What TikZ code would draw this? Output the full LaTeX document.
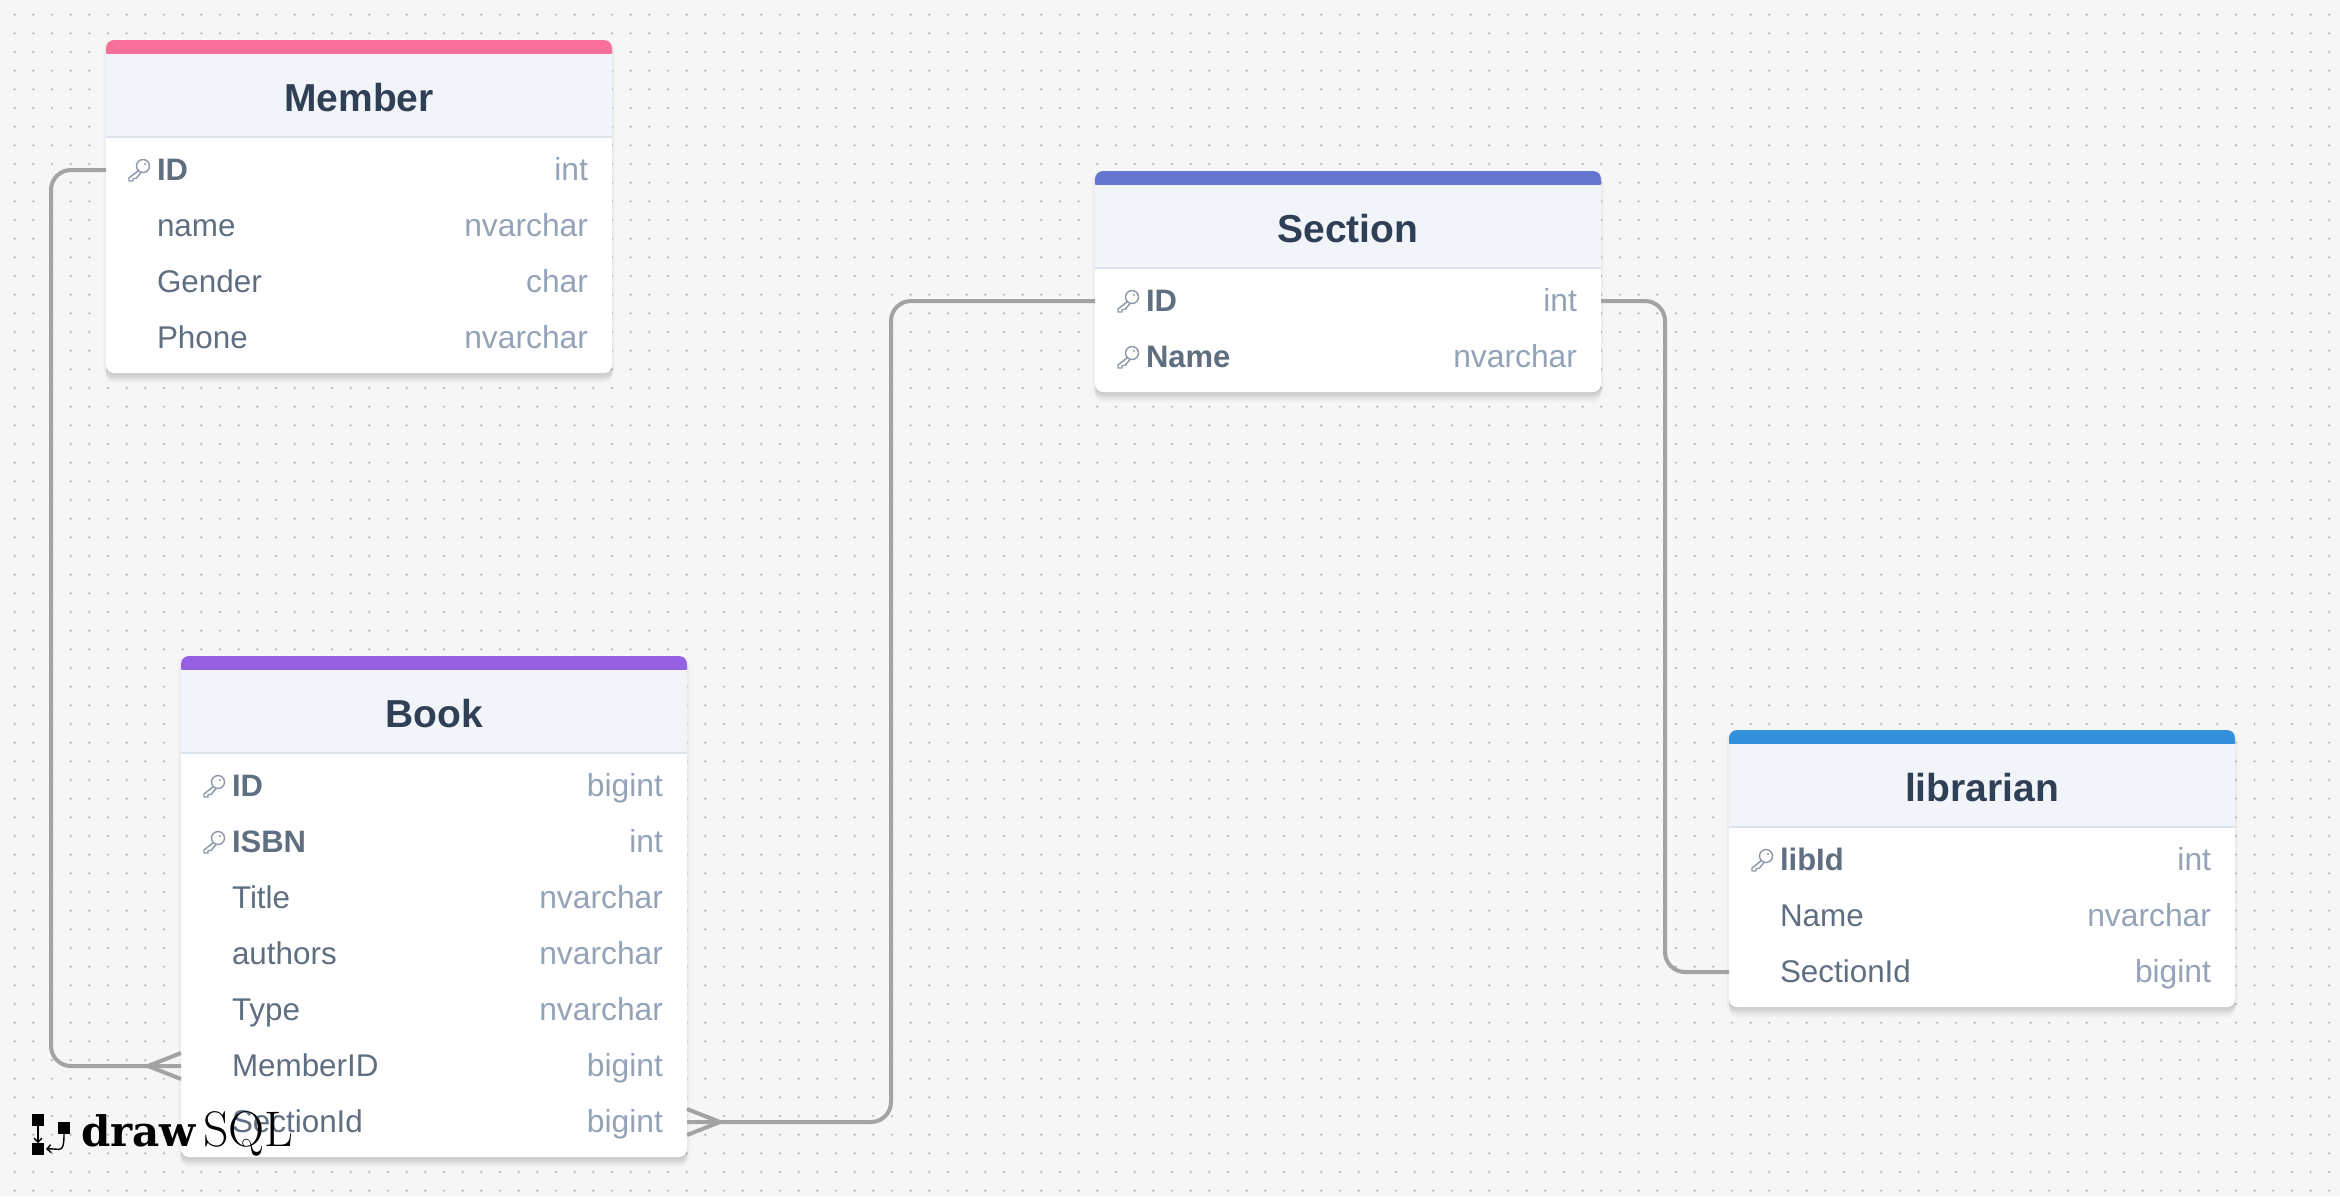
\documentclass[tikz,border=0pt]{standalone}
\usepackage{fontspec}
\newfontfamily\uifont{Liberation Sans}
\newfontfamily\logofont{DejaVu Serif}
\usetikzlibrary{positioning,shadows,arrows.meta,calc}
\definecolor{canvasgray}{HTML}{F6F6F6}
\definecolor{griddot}{HTML}{B4B4B4}
\definecolor{relgray}{HTML}{A3A3A3}
\definecolor{headfill}{HTML}{F1F4F9}
\definecolor{headline}{HTML}{DDE3EC}
\definecolor{titleink}{HTML}{2F3F55}
\definecolor{colink}{HTML}{5F6F81}
\definecolor{typeink}{HTML}{94A3B8}
\definecolor{keyink}{HTML}{8A97A8}
\definecolor{memberpink}{HTML}{F9719B}
\definecolor{sectionblue}{HTML}{6574CD}
\definecolor{bookpurple}{HTML}{9561E2}
\definecolor{librarianblue}{HTML}{3490DC}
\tikzset{
  every node/.style={outer sep=0pt},
  softlayer/.style={general shadow={shadow yshift=-#1,opacity=.028,fill=black,shadow xshift=0pt}},
  cardbox/.style={rectangle,fill=white,rounded corners=4pt,anchor=north west,inner sep=0pt,minimum width=253pt,
    softlayer=5pt,softlayer=4pt,softlayer=3pt,softlayer=2pt,softlayer=1pt,
    general shadow={shadow yshift=-1.5pt,opacity=.03,fill=black,shadow scale=1.01}},
  accentbar/.style={rectangle,rounded corners=4pt,inner sep=0pt,minimum width=253pt,minimum height=10pt},
  headbox/.style={rectangle,fill=headfill,inner sep=0pt,minimum width=253pt,minimum height=41.5pt},
  titletext/.style={font=\uifont\bfseries\fontsize{19.5}{22}\selectfont,text=titleink,inner sep=0pt},
  rowbox/.style={rectangle,inner sep=0pt,minimum width=253pt,minimum height=28pt},
  colname/.style={anchor=base west,inner sep=0pt,text=colink,font=\uifont\fontsize{15.7}{18}\selectfont},
  pkname/.style={colname,font=\uifont\bfseries\fontsize{15.5}{18}\selectfont},
  coltype/.style={anchor=base east,inner sep=0pt,text=typeink,font=\uifont\fontsize{15.9}{18}\selectfont},
  relline/.style={draw=relgray,line width=2pt,rounded corners=10pt},
  crowline/.style={draw=relgray,line width=2pt},
  logosquare/.style={rectangle,fill=black,inner sep=0pt,minimum width=6pt,minimum height=6pt},
  logotext/.style={anchor=base west,inner sep=0pt,text=black},
  keyicon/.pic={
    \draw[keyink,line width=.7pt] (4,-4) circle (6.5);
    \fill[keyink] (6,-6) circle (1.1);
    \draw[keyink,line width=.7pt,line join=round] (-.5,.5) -- (-10,8) -- (-10,11) -- (-6,11) -- (-6,8.5) -- (-3,8.5) -- (2,2.5);
  }
}
% one table: name, left, top, height, title, colour
\newcommand{\dbcard}[6]{
  \node[cardbox,minimum height=#4*.5pt] (#1) at (#2,#3) {};
  \node[accentbar,fill=#6,below=0pt of #1.north] (#1-accent) {};
  \node[headbox,below=7pt of #1.north] (#1-head) {};
  \draw[headline,line width=.7pt] (#1-head.south west) -- (#1-head.south east);
  \node[titletext] (#1-title) at ([yshift=-1pt]#1-head.center) {#5};
}
% one row: name, row above, text, type, style of the text
\newcommand{\dbrow}[5]{
  \node[rowbox,below=#2] (#1) {};
  \node[#5] (#1-name) at ([xshift=25.5pt,yshift=-5.2pt]#1.west) {#3};
  \node[coltype] (#1-type) at ([xshift=-12pt,yshift=-5.2pt]#1.east) {#4};
}
\newcommand{\pkrow}[4]{
  \dbrow{#1}{#2}{#3}{#4}{pkname}
  \pic at ([xshift=16.5pt]#1.west) {keyicon};
}
\newcommand{\plainrow}[4]{\dbrow{#1}{#2}{#3}{#4}{colname}}
\begin{document}
\begin{tikzpicture}[x=.5pt,y=-.5pt]
\useasboundingbox (0,0) rectangle (2340,1196);
\fill[canvasgray] (0,0) rectangle (2340,1196);
\foreach \doty in {0,...,63}
  \draw[griddot,line width=1.2pt,line cap=round,dash pattern=on 0pt off 9.333pt] (14.67,{14.7+18.667*\doty}) -- (2340,{14.7+18.667*\doty});

\dbcard{member}{106}{40}{333}{Member}{memberpink}
\pkrow{member-id}{2.5pt of member-head}{ID}{int}
\plainrow{member-name}{0pt of member-id}{name}{nvarchar}
\plainrow{member-gender}{0pt of member-name}{Gender}{char}
\plainrow{member-phone}{0pt of member-gender}{Phone}{nvarchar}

\dbcard{section}{1095}{171}{221}{Section}{sectionblue}
\pkrow{section-id}{2.5pt of section-head}{ID}{int}
\pkrow{section-name}{0pt of section-id}{Name}{nvarchar}

\dbcard{book}{181}{656}{501}{Book}{bookpurple}
\pkrow{book-id}{2.5pt of book-head}{ID}{bigint}
\pkrow{book-isbn}{0pt of book-id}{ISBN}{int}
\plainrow{book-title}{0pt of book-isbn}{Title}{nvarchar}
\plainrow{book-authors}{0pt of book-title}{authors}{nvarchar}
\plainrow{book-type}{0pt of book-authors}{Type}{nvarchar}
\plainrow{book-memberid}{0pt of book-type}{MemberID}{bigint}
\plainrow{book-sectionid}{0pt of book-memberid}{SectionId}{bigint}

\dbcard{librarian}{1729}{730}{277}{librarian}{librarianblue}
\pkrow{librarian-libid}{2.5pt of librarian-head}{libId}{int}
\plainrow{librarian-name}{0pt of librarian-libid}{Name}{nvarchar}
\plainrow{librarian-sectionid}{0pt of librarian-name}{SectionId}{bigint}

% relations
\coordinate (memberbend) at (51,0);
\coordinate (sectionbend) at (891,0);
\coordinate (librarianbend) at (1665,0);
\draw[relline] (member-id.west) -- (member-id.west -| memberbend) -- (book-memberid.west -| memberbend) -- (book-memberid.west);
\draw[relline] (book-sectionid.east) -- (book-sectionid.east -| sectionbend) -- (section-id.west -| sectionbend) -- (section-id.west);
\draw[relline] (section-id.east) -- (section-id.east -| librarianbend) -- (librarian-sectionid.west -| librarianbend) -- (librarian-sectionid.west);
\draw[crowline] ($(book-memberid.west)+(0,-13)$) -- ++(-33,13) -- ++(33,13);
\draw[crowline] ($(book-sectionid.east)+(0,-13)$) -- ++(33,13) -- ++(-33,13);

% logo
\node[logosquare] (logotop) at (38,1120) {};
\node[logosquare] (logobottom) at (38,1149) {};
\node[logosquare] (logoright) at (64,1128) {};
\draw[-{Straight Barb[length=2pt,width=4pt]},line width=.7pt] (logotop) -- (logobottom);
\draw[-{Straight Barb[length=2pt,width=4pt]},line width=.7pt] (logoright.south) .. controls (64,1155) and (60,1148) .. (46,1149);
\node[logotext,font=\logofont\bfseries\fontsize{21}{24}\selectfont] (logodraw) at (81,1146) {draw};
\node[logotext,font=\fontsize{25}{24}\selectfont] (logosql) at (203,1146) {SQL};
\end{tikzpicture}
\end{document}
